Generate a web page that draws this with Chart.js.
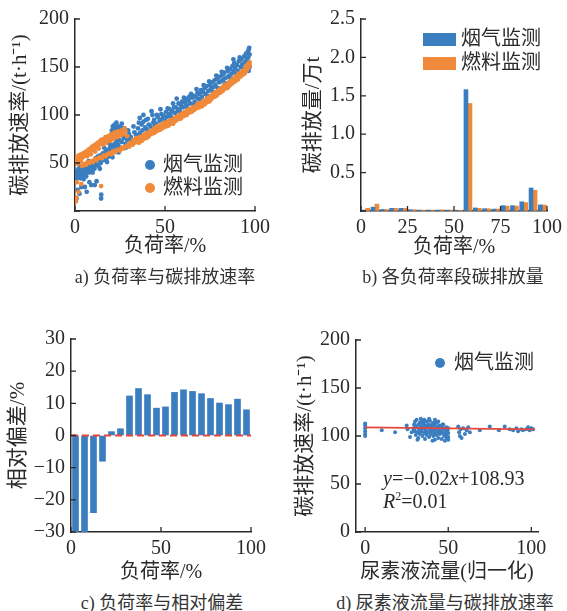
<!DOCTYPE html>
<html>
<head>
<meta charset="utf-8">
<script src="https://cdn.jsdelivr.net/npm/chart.js@4.4.1/dist/chart.umd.min.js"></script>
<style>
  body { margin: 0; background: #fff; width: 567px; height: 611px; position: relative; overflow: hidden;
         font-family: 'Liberation Serif', 'Noto Sans CJK SC', serif; color: #333; }
  canvas { position: absolute; }
  .cap { position: absolute; font-size: 18px; line-height: 24px; white-space: nowrap; transform: translateX(-50%); }
</style>
</head>
<body>
<canvas id="ca" width="283" height="280" style="left:0;top:0"></canvas>
<canvas id="cb" width="284" height="280" style="left:283px;top:0"></canvas>
<canvas id="cc" width="283" height="280" style="left:0;top:305px"></canvas>
<canvas id="cd" width="284" height="280" style="left:283px;top:305px"></canvas>
<div class="cap" style="left:165px;top:265px">a) 负荷率与碳排放速率</div>
<div class="cap" style="left:453px;top:265px">b) 各负荷率段碳排放量</div>
<div class="cap" style="left:162px;top:591px">c) 负荷率与相对偏差</div>
<div class="cap" style="left:445px;top:591px">d) 尿素液流量与碳排放速率</div>
<script>
// ---- data ----
const seriesNames = ['烟气监测', '燃料监测'];

// a) load rate (%) vs emission rate (t/h)
const flueA = [
  [0.5,33],[0.8,38],[1,42],[1.2,36],[1.5,40],[1.8,35],[2,44],[2.2,39],[2.5,37],[2.8,41],[3,34],[3.3,43],[3.6,38],[4,40],[4.3,45],[4.6,37],[5,42],[5.3,46],
  [0.8,13],[1.5,22],[2.5,18],[3.5,25],[5.5,25],[6.5,20],[8,30],[9,27],[11,27],[14.5,13],[14.6,17],[12,31],
  [5.8,39],[6,44],[6.5,48],[7,42],[7.3,46],[7.8,40],[8.2,50],[8.5,45],[9,43],[9.4,48],[10,52],[10.3,46],[10.8,44],[11,50],[11.5,55],[12,48],[12.4,53],[13,47],[13.5,52],[14,58],[14.3,50],[15,55],
  [15.5,60],[16,53],[16.5,57],[17,62],[17.5,55],[18,59],[18.5,64],[19,57],[19.5,66],[20,60],[20.5,63],[21,68],[21.5,62],[22,70],[22.5,65],[23,72],[23.5,67],[24,69],[24.5,74],[25,66],
  [20.5,84],[21,88],[21.5,82],[22,90],[22.5,86],[23,92],[23.5,85],[24,88],[24.8,83],[25.5,87],[26,91],[27,84],[27.5,86],
  [26,72],[27,76],[28,70],[28.5,78],[29,74],[30,80],[30.5,75],[31,77],[32,73],
  [33,82],[34,79],[35,86],[36,81],[37,90],[37.5,84],[38,93],[39,87],[40,85],[40.5,96],[41,90],[42,88],[43,100],[43.5,92],[44,95],[45,91],[38,100],[36,97],
  [46,98],[47,94],[48,101],[48.5,96],[49,99],[50,94],[50.5,103],[51,98],[52,101],[52.5,106],[53,100],[54,104],[55,108],[55.5,102],
  [56,108],[57,104],[57.5,112],[58,106],[59,110],[59.5,114],[60,108],[61,113],[61.5,117],[62,110],[63,115],[63.5,119],[64,112],[65,118],
  [66,120],[66.5,114],[67,119],[68,123],[68.5,117],[69,122],[70,126],[70.5,119],[71,124],[72,128],[72.5,122],[73,130],[74,125],[75,131],
  [75.5,127],[76,134],[77,129],[77.5,136],[78,131],[79,138],[80,134],[80.5,140],[81,135],[82,142],[82.5,137],[83,144],[84,139],[85,146],
  [85.5,141],[86,148],[87,143],[87.5,151],[88,146],[88.5,154],[89,149],[90,152],[90.5,146],[91,156],[92,150],[92.5,158],[93,153],[94,161],[94.5,155],[95,164],[95.5,158],[96,166],[96.2,160],[96.5,146],[96.8,170],[97,163],
  [3.2,47],[4.8,33],[6.2,36],[7.6,52],[9.8,40],[12.8,57],[13.8,44],[16.2,66],[17.8,51],[19.2,70],[20.8,56],[22.8,76],[24.2,61],[26.5,79],[28.2,66],[29.5,84],[31.5,70],[32.5,88],
  [34.5,75],[35.5,92],[37,78],[39.5,95],[41.5,82],[42.5,104],[44.5,88],[45.5,100],[47.5,106],[49.5,92],[51.5,107],[53.5,97],[54.5,112],[56.5,117],[58.5,103],[60.5,118],
  [62.5,107],[64.5,122],[66,111],[67.5,127],[69.5,115],[71.5,131],[73.5,120],[74.5,135],[76.5,124],[78.5,141],[79.5,128],[81.5,145],[83.5,133],[84.5,149],[86.5,138],
  [88,158],[89.5,143],[91.5,160],[93.5,148],[95,155],[96.5,168],[97,150]
];
const fuelA = [
  [0.5,10],[0.8,14],[1,30],[3.5,28],[14.5,26],[2,20],
  [0.3,50],[0.6,54],[1,52],[1.3,57],[1.6,53],[2,55],[2.3,58],[2.6,54],[3,56],[3.4,59],[3.8,55],[4.2,58],[4.6,60],[5,57],
  [5.5,61],[6,59],[6.5,62],[7,60],[7.5,64],[8,62],[8.5,65],[9,63],[9.5,67],[10,64],[10.5,68],[11,66],[11.5,69],[12,67],[12.5,71],[13,69],[13.5,72],[14,70],[14.5,74],[15,72],
  [16,75],[16.5,73],[17,77],[18,75],[18.5,78],[19,76],[20,80],[20.5,77],[21,79],[22,82],[22.5,78],[23,81],[24,83],[24.5,79],[25,82],[26,84],[27,80],[28,83],
  [4,47],[5,49],[6,48],[7,51],[8,50],[9,52],[10,51],[11,54],[12,53],[13,55],[14,56],[15,55],[16,58],[17,57],[18,59],[19,60],[20,59],[21,62],[22,61],[23,63],[24,64],[25,63],
  [26,66],[27,65],[28,67],[29,68],[30,67],[31,70],[32,69],[33,71],[34,72],
  [35,75],[35.5,71],[36,77],[37,73],[37.5,78],[38,75],[39,80],[39.5,76],[40,81],[41,78],[41.5,83],[42,80],[43,84],[43.5,81],[44,86],[45,83],[46,87],[46.5,84],[47,89],[48,86],
  [48.5,90],[49,87],[50,91],[50.5,88],[51,92],[52,89],[52.5,94],[53,91],[54,95],[55,93],[55.5,97],[56,94],[57,98],[57.5,96],[58,100],[59,97],[60,102],[60.5,99],[61,103],[62,100],
  [62.5,105],[63,102],[64,106],[65,104],[65.5,108],[66,105],[67,109],[67.5,107],[68,111],[69,108],[70,112],[70.5,109],[71,114],[72,111],[72.5,116],[73,113],[74,118],[75,115],
  [75.5,120],[76,117],[77,122],[77.5,119],[78,124],[79,121],[80,126],[80.5,123],[81,128],[82,125],[82.5,130],[83,127],[84,132],[85,129],[85.5,134],[86,131],[87,136],[87.5,133],
  [88,138],[89,135],[90,141],[90.5,137],[91,143],[92,140],[92.5,145],[93,142],[94,147],[94.5,144],[95,150],[95.5,147],[96,153],[96.5,150],[97,155],
  [1.5,49],[3.2,52],[6.8,57],[8.8,59],[11.2,62],[13.2,65],[15.5,69],[17.5,71],[19.5,73],[21.5,75],[23.5,77],[25.5,79],[27.5,86],[29,78],[30.5,71],[32.5,74],[34,76],
  [36.5,73],[38.5,79],[40.5,77],[42.5,83],[44.5,82],[45.5,88],[47.5,85],[49.5,92],[51.5,90],[53.5,94],[54.5,91],[56.5,98],[58.5,96],[59.5,101],[61.5,101],[63.5,106],
  [64.5,103],[66.5,107],[68.5,112],[69.5,110],[71.5,112],[73.5,117],[74.5,114],[76.5,121],[78.5,120],[79.5,125],[81.5,126],[83.5,131],[84.5,128],[86.5,135],[88.5,136],
  [89.5,140],[91.5,141],[93.5,146],[94,143],[95.8,151],[97,152]
];

// b) emissions per load-rate bin (万t), and c) relative deviation (%)
const binCenters = [2.5,7.5,12.5,17.5,22.5,27.5,32.5,37.5,42.5,47.5,52.5,57.5,62.5,67.5,72.5,77.5,82.5,87.5,92.5,97.5];
const flueB = [0.012,0.05,0.02,0.035,0.035,0.017,0.012,0.012,0.012,0.012,0.01,1.58,0.04,0.03,0.025,0.07,0.07,0.12,0.30,0.08];
const fuelB = [0.035,0.09,0.02,0.035,0.035,0.017,0.012,0.012,0.016,0.012,0.01,1.40,0.035,0.03,0.025,0.063,0.065,0.11,0.27,0.078];
const devC  = [-30,-30,-24,-8,1.2,2.1,12.3,14.6,12.7,8.5,8.9,13.4,14.2,13.7,13,11.5,10.1,9.6,11.3,8];

// d) urea flow (normalised) vs emission rate
const flueD = [
  [0,100],[0,102],[0,105],[0,108],[0,111],[0,113],[10,106],[18,104],[25,111],[25.5,107],[27,99],[28,104],
  [29,108],[29.5,112],[30,105],[30,115],[30.5,101],[31,109],[31,117],[31.5,104],[32,112],[32,98],[32.5,107],[33,114],[33,102],[33.5,110],
  [34,105],[34,116],[34.5,100],[35,108],[35,113],[35.5,103],[36,111],[36,97],[36.5,106],[37,115],[37,101],[37.5,109],[38,104],[38,112],
  [38.5,99],[39,107],[39,116],[39.5,102],[40,110],[40,105],[40.5,113],[41,100],[41,108],[41.5,103],[42,111],[42,96],[42.5,106],[43,114],
  [43,101],[43.5,109],[44,104],[44,98],[44.5,111],[45,107],[45,102],[45.5,110],[46,105],[46,97],[46.5,108],[47,103],[47,112],[47.5,100],
  [48,107],[48,95],[48.5,104],[49,109],[49,98],[49.5,106],[50,103],[50,96],[33.5,118],[35.5,117],[38.5,118],[31.5,96],[40.5,95],
  [29.5,106],[30.5,110],[32.5,103],[33.5,107],[34.5,112],[36.5,109],[37.5,104],[39.5,111],[40.5,107],[41.5,114],[43.5,105],[44.5,107],
  [45.5,104],[46.5,112],[47.5,108],[48.5,101],[49.5,103],[36,115],[42,117],[44,115],[50,99],[50,108],
  [56,110],[56.5,104],[57,100],[57.5,107],[58,98],[59,108],[60,102],[61,106],[62,109],[63,104],[69,106],[75,110],[80.5,106],[84,110],
  [87,107],[89,106],[91,108],[92,105],[94,107],[95,106],[97,107],[98,109],[99,106],[100,108],[101,107]
];
const fitSlope = -0.02, fitIntercept = 108.93, fitR2 = 0.01;
const fitX = [0, 102];

const ticksA = { x: [0, 50, 100], y: [0, 50, 100, 150, 200] };
const ticksB = { x: [0, 25, 50, 75, 100], y: [0, 0.5, 1, 1.5, 2, 2.5] };
const ticksC = { x: [0, 50, 100], y: [-30, -20, -10, 0, 10, 20, 30] };
const ticksD = { x: [0, 50, 100], y: [0, 50, 100, 150, 200] };

// ---- styling ----
const FONT = "'Liberation Serif', 'Noto Sans CJK SC', serif";
const BLUE = '#3a7ec0', ORANGE = '#f08a3a', RED = '#e5463d', INK = '#2a2a2a';

const pts = arr => arr.map(p => ({ x: p[0], y: p[1] }));

// inward tick marks, like the original plots
const inwardTicks = {
  id: 'inwardTicks',
  afterDraw(chart) {
    const { ctx, chartArea: a, scales } = chart;
    ctx.save();
    ctx.strokeStyle = INK;
    ctx.lineWidth = 1.3;
    ctx.beginPath();
    scales.x.ticks.forEach(t => {
      const p = scales.x.getPixelForValue(t.value);
      ctx.moveTo(p, a.bottom); ctx.lineTo(p, a.bottom - 5);
    });
    scales.y.ticks.forEach(t => {
      const p = scales.y.getPixelForValue(t.value);
      ctx.moveTo(a.left, p); ctx.lineTo(a.left + 5, p);
    });
    ctx.stroke();
    ctx.restore();
  }
};

const miniLegend = {
  id: 'miniLegend',
  afterDraw(chart, args, o) {
    if (!o || !o.items) return;
    const ctx = chart.ctx;
    ctx.save();
    ctx.font = '20px ' + FONT;
    ctx.textBaseline = 'middle';
    o.items.forEach((i, k) => {
      const ds = chart.data.datasets[i];
      const yy = o.y + k * o.dy;
      ctx.fillStyle = ds.backgroundColor;
      if (o.kind === 'rect') ctx.fillRect(o.x, yy - 6, 33, 13);
      else { ctx.beginPath(); ctx.arc(o.x, yy, 5, 0, Math.PI * 2); ctx.fill(); }
      ctx.fillStyle = INK;
      ctx.fillText(ds.label, o.tx, yy + 1);
    });
    ctx.restore();
  }
};

const equation = {
  id: 'equation',
  afterDraw(chart, args, o) {
    if (!o || !o.lines) return;
    const ctx = chart.ctx;
    ctx.save();
    ctx.fillStyle = INK;
    ctx.textBaseline = 'middle';
    o.lines.forEach((parts, k) => {
      let x = o.x;
      const y = o.y + k * o.dy;
      parts.forEach(([txt, style]) => {
        const sup = style === 'sup';
        ctx.font = (style === 'i' ? 'italic ' : '') + (sup ? '12px ' : '20px ') + FONT;
        ctx.fillText(txt, x, sup ? y - 6 : y);
        x += ctx.measureText(txt).width;
      });
    });
    ctx.restore();
  }
};

function axis(o) {
  return {
    type: 'linear', min: o.min, max: o.max, offset: false,
    border: { display: true, color: INK, width: 1.5 },
    grid: { drawOnChartArea: false, drawTicks: false },
    ticks: { color: INK, font: { family: FONT, size: 20 }, padding: o.pad, autoSkip: false, maxRotation: 0,
             callback: o.fmt || (v => v) },
    title: { display: true, text: o.title, color: INK, font: { family: FONT, size: o.tsize || 20 }, padding: o.tpad },
    afterFit: s => { if (o.w) s.width = o.w; if (o.h) s.height = o.h; },
    afterBuildTicks: s => { s.ticks = o.vals.map(v => ({ value: v })); }
  };
}

const base = pad => ({
  responsive: false, animation: false,
  layout: { padding: pad },
  plugins: { legend: { display: false }, tooltip: { enabled: false } }
});

// a)
const optA = base({ top: 19, right: 28, left: 0, bottom: 0 });
optA.plugins.miniLegend = { items: [0, 1], x: 150, y: 165, dy: 23, tx: 163, kind: 'dot' };
optA.scales = {
  x: axis({ min: 0, max: 100, vals: ticksA.x, pad: 5, h: 69, title: '负荷率/%', tpad: { top: 0, bottom: 21 } }),
  y: axis({ min: 0, max: 200, vals: ticksA.y, pad: 6, w: 75, fmt: v => v === 0 ? '' : v,
            title: '碳排放速率/(t·h⁻¹)', tsize: 21, tpad: { top: 8, bottom: 0 } })
};
new Chart('ca', {
  type: 'scatter',
  data: { datasets: [
    { label: seriesNames[0], data: pts(flueA), backgroundColor: BLUE, pointRadius: 2.4, borderWidth: 0, order: 1 },
    { label: seriesNames[1], data: pts(fuelA), backgroundColor: ORANGE, pointRadius: 2.4, borderWidth: 0, order: 0 }
  ] },
  options: optA,
  plugins: [inwardTicks, miniLegend]
});

// b)
const optB = base({ top: 19, right: 17, left: 0, bottom: 0 });
optB.plugins.miniLegend = { items: [0, 1], x: 140, y: 39, dy: 24, tx: 178, kind: 'rect' };
optB.scales = {
  x: axis({ min: 0, max: 100, vals: ticksB.x, pad: 5, h: 69, title: '负荷率/%', tpad: { top: 0, bottom: 20 } }),
  y: axis({ min: 0, max: 2.5, vals: ticksB.y, pad: 6, w: 78, fmt: v => v === 0 ? '' : v.toFixed(1),
            title: '碳排放量/万t', tsize: 21, tpad: { top: 18, bottom: 0 } })
};
new Chart('cb', {
  type: 'bar',
  data: { datasets: [
    { label: seriesNames[0], data: binCenters.map((c, i) => ({ x: c, y: flueB[i] })), backgroundColor: BLUE, barThickness: 4 },
    { label: seriesNames[1], data: binCenters.map((c, i) => ({ x: c, y: fuelB[i] })), backgroundColor: ORANGE, barThickness: 4 }
  ] },
  options: optB,
  plugins: [inwardTicks, miniLegend]
});

// c)
const optC = base({ top: 34, right: 32, left: 0, bottom: 0 });
optC.scales = {
  x: axis({ min: 0, max: 100, vals: ticksC.x, pad: 5, h: 53, title: '负荷率/%', tpad: { top: 0, bottom: 0 } }),
  y: axis({ min: -30, max: 30, vals: ticksC.y, pad: 6, w: 71, fmt: v => String(v).replace('-', '−'),
            title: '相对偏差/%', tsize: 21, tpad: { top: 6, bottom: 0 } })
};
new Chart('cc', {
  type: 'bar',
  data: { datasets: [
    { type: 'line', label: 'zero', data: [{ x: 0, y: 0 }, { x: 100, y: 0 }], borderColor: RED, borderWidth: 2,
      borderDash: [7, 4], pointRadius: 0, order: 0 },
    { label: '相对偏差', data: binCenters.map((c, i) => ({ x: c, y: devC[i] })), backgroundColor: BLUE, barThickness: 6, order: 1 }
  ] },
  options: optC,
  plugins: [inwardTicks]
});

// d)
const optD = base({ top: 35, right: 29, left: 0, bottom: 0 });
optD.plugins.miniLegend = { items: [0], x: 157, y: 58, dy: 0, tx: 171, kind: 'dot' };
optD.plugins.equation = {
  x: 100, y: 175, dy: 23,
  lines: [
    [['y', 'i'], ['=' + (fitSlope < 0 ? '−' : '+') + Math.abs(fitSlope).toFixed(2)], ['x', 'i'], ['+' + fitIntercept.toFixed(2)]],
    [['R', 'i'], ['2', 'sup'], ['=' + fitR2.toFixed(2)]]
  ]
};
optD.scales = {
  x: axis({ min: -5.5, max: 104, vals: ticksD.x, pad: 5, h: 53, title: '尿素液流量(归一化)', tpad: { top: 0, bottom: 0 } }),
  y: axis({ min: 0, max: 200, vals: ticksD.y, pad: 6, w: 73,
            title: '碳排放速率/(t·h⁻¹)', tsize: 21, tpad: { top: 10, bottom: 0 } })
};
new Chart('cd', {
  type: 'scatter',
  data: { datasets: [
    { label: seriesNames[0], data: pts(flueD), backgroundColor: BLUE, pointRadius: 2, borderWidth: 0, order: 1 },
    { type: 'line', label: 'fit', data: fitX.map(x => ({ x: x, y: fitSlope * x + fitIntercept })), borderColor: RED,
      borderWidth: 1.8, pointRadius: 0, showLine: true, order: 0 }
  ] },
  options: optD,
  plugins: [inwardTicks, miniLegend, equation]
});
</script>
</body>
</html>
